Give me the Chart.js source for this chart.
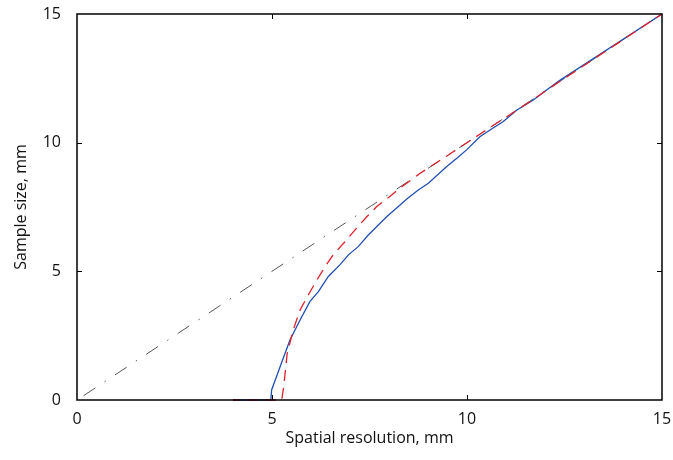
<!DOCTYPE html>
<html>
<head>
<meta charset="utf-8">
<script src="https://cdn.jsdelivr.net/npm/chart.js@4"></script>
<style>
  html, body { margin: 0; padding: 0; background: #fff; }
  #wrap { width: 673px; height: 460px; }
</style>
</head>
<body>
<div id="wrap"><canvas id="myChart"></canvas></div>
<script>
// values
const tickValues = [0, 5, 10, 15];

const diagX = [0, 15];
const diagY = [0, 15];

const blueX = [4.0, 4.97, 4.99, 5.21, 5.46, 5.72, 5.97, 6.19, 6.44, 6.74, 6.96, 7.21, 7.47, 7.94, 8.45, 8.75, 9.01, 9.48, 9.74, 9.99, 10.33, 10.59, 10.93, 11.28, 11.7, 12.04, 12.38, 15];
const blueY = [0, 0, 0.39, 1.3, 2.33, 3.11, 3.82, 4.21, 4.79, 5.25, 5.64, 5.96, 6.41, 7.12, 7.8, 8.16, 8.42, 9.07, 9.39, 9.72, 10.23, 10.49, 10.82, 11.27, 11.66, 12.05, 12.42, 15];

const redX = [4.0, 5.25, 5.3, 5.39, 5.55, 5.72, 5.93, 6.15, 6.36, 6.57, 6.87, 7.13, 7.43, 7.68, 8.03, 8.33, 8.79, 9.56, 10.33, 11.57, 12.3, 15];
const redY = [0, 0, 0.52, 1.81, 2.75, 3.5, 4.08, 4.66, 5.18, 5.64, 6.15, 6.61, 7.12, 7.51, 7.92, 8.29, 8.8, 9.56, 10.33, 11.55, 12.3, 15];

function toPoints(xs, ys) {
    return xs.map((x, i) => ({ x: x, y: ys[i] }));
}

// MATLAB style box with inward ticks
const boxPlugin = {
    id: 'box',
    afterDatasetsDraw(chart) {
        const ctx = chart.ctx;
        const a = chart.chartArea;
        const xs = chart.scales.x, ys = chart.scales.y;
        ctx.save();
        ctx.strokeStyle = '#000';
        ctx.lineWidth = 1.5;
        ctx.strokeRect(a.left, a.top, a.right - a.left, a.bottom - a.top);
        ctx.lineWidth = 1;
        const len = 5;
        tickValues.slice(1, -1).forEach(v => {
            const px = Math.round(xs.getPixelForValue(v)) + 0.5;
            ctx.beginPath();
            ctx.moveTo(px, a.bottom); ctx.lineTo(px, a.bottom - len);
            ctx.moveTo(px, a.top); ctx.lineTo(px, a.top + len);
            const py = Math.round(ys.getPixelForValue(v)) + 0.5;
            ctx.moveTo(a.left, py); ctx.lineTo(a.left + len, py);
            ctx.moveTo(a.right, py); ctx.lineTo(a.right - len, py);
            ctx.stroke();
        });
        ctx.restore();
    }
};

const font = { family: '"Open Sans", sans-serif', size: 16 };

new Chart(document.getElementById('myChart').getContext('2d'), {
    type: 'scatter',
    data: {
        datasets: [{
            data: toPoints(redX, redY),
            showLine: true,
            borderColor: '#e0202a',
            borderWidth: 1.3,
            borderDash: [11, 7],
            borderDashOffset: 4,
            pointRadius: 0,
            tension: 0,
            clip: false
        }, {
            data: toPoints(blueX, blueY),
            showLine: true,
            borderColor: '#1f4fb0',
            borderWidth: 1.3,
            pointRadius: 0,
            clip: false
        }, {
            data: toPoints(diagX, diagY),
            showLine: true,
            borderColor: '#555555',
            borderWidth: 1,
            borderDash: [14, 11, 1.5, 11],
            borderDashOffset: -8,
            pointRadius: 0,
            clip: false
        }]
    },
    options: {
        responsive: true,
        maintainAspectRatio: false,
        animation: false,
        layout: { padding: { top: 14, right: 11, left: 0, bottom: 0 } },
        plugins: {
            legend: { display: false },
            tooltip: { enabled: false }
        },
        scales: {
            x: {
                type: 'linear',
                min: 0, max: 15,
                grid: { display: false },
                border: { display: false },
                ticks: { stepSize: 5, padding: 2, color: '#111', font: font, maxRotation: 0 },
                title: { display: true, text: 'Spatial resolution, mm', color: '#111', font: font, padding: { top: 2, bottom: 12 } },
                afterFit(scale) { scale.height = 60; scale.paddingLeft = 0; scale.paddingRight = 0; }
            },
            y: {
                type: 'linear',
                min: 0, max: 15,
                grid: { display: false },
                border: { display: false },
                ticks: { stepSize: 5, padding: 8, color: '#111', font: font },
                title: { display: true, text: 'Sample size, mm', color: '#111', font: font, padding: { top: 12, bottom: 4 } },
                afterFit(scale) { scale.width = 77; scale.paddingTop = 0; scale.paddingBottom = 0; }
            }
        }
    },
    plugins: [boxPlugin]
});
</script>
</body>
</html>
